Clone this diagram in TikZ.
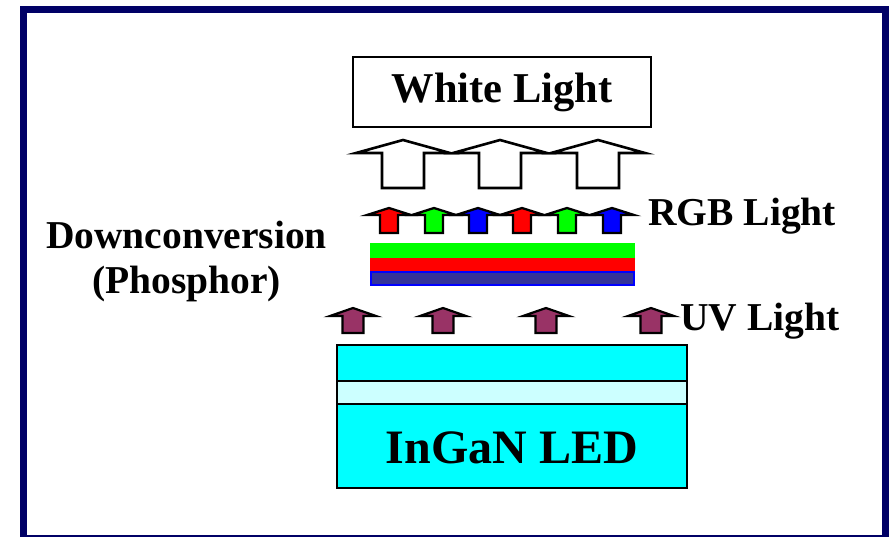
\documentclass[tikz,border=0pt]{standalone}
\usepackage{fontspec}
\setmainfont{Liberation Serif}
\definecolor{framenavy}{HTML}{000066}
\definecolor{uvpurple}{HTML}{993366}
\definecolor{ledcyan}{HTML}{00FFFF}
\definecolor{ledlight}{HTML}{CCFFFF}
\definecolor{phblue}{HTML}{333399}
\definecolor{rgbred}{HTML}{FF0000}
\definecolor{rgbgreen}{HTML}{00FF00}
\definecolor{rgbblue}{HTML}{0000FF}
% \myuparrow{cx}{tip y}{head base y}{bottom y}{head half width}{shaft half width}{style}
\newcommand{\myuparrow}[7]{%
  \draw[#7] (#1,#2) -- (#1+#5,#3) -- (#1+#6,#3) -- (#1+#6,#4) -- (#1-#6,#4)
    -- (#1-#6,#3) -- (#1-#5,#3) -- cycle;}
\tikzset{
  lbl/.style={font=\bfseries\fontsize{39.5}{46}\selectfont, inner sep=0pt},
  bigarrow/.style={draw=black, fill=white, line width=2.6pt, line join=miter},
  rgbarrow/.style={draw=black, line width=2.3pt, line join=miter},
  uvarrow/.style={draw=black, fill=uvpurple, line width=2.2pt, line join=miter},
  layer/.style={draw=black, line width=2.4pt},
}
\begin{document}
\begin{tikzpicture}[x=1pt,y=-1pt]
\useasboundingbox (0,0) rectangle (891,536);
\clip (0,0) rectangle (891,536);
\fill[white] (0,0) rectangle (891,536);
% frame
\draw[framenavy, line width=7.7pt] (23.4,9.5) rectangle (885.5,538.6);

% White Light box
\node[draw=black, line width=2pt, minimum width=298pt, minimum height=70pt,
  inner sep=0pt, font=\bfseries\fontsize{42.5}{48}\selectfont] (white) at (502,92) {White Light};

% big hollow arrows
\myuparrow{403}{140}{153}{188}{47}{21}{bigarrow}
\myuparrow{500}{140}{153}{188}{47}{21}{bigarrow}
\myuparrow{598}{140}{153}{188}{47}{21}{bigarrow}

% RGB arrows
\myuparrow{389}{208}{215}{233}{22}{9}{rgbarrow, fill=rgbred}
\myuparrow{434}{208}{215}{233}{22}{9}{rgbarrow, fill=rgbgreen}
\myuparrow{478}{208}{215}{233}{22}{9}{rgbarrow, fill=rgbblue}
\myuparrow{522}{208}{215}{233}{22}{9}{rgbarrow, fill=rgbred}
\myuparrow{567}{208}{215}{233}{22}{9}{rgbarrow, fill=rgbgreen}
\myuparrow{612}{208}{215}{233}{22}{9}{rgbarrow, fill=rgbblue}

% phosphor layers
\fill[rgbgreen] (370,243) rectangle (635,258);
\fill[rgbred] (370,258) rectangle (635,271);
\draw[rgbblue, fill=phblue, line width=2pt] (371,272) rectangle (634,285);

% UV arrows
\myuparrow{353}{308}{316}{333}{23}{10.5}{uvarrow}
\myuparrow{443}{308}{316}{333}{23}{10.5}{uvarrow}
\myuparrow{546}{308}{316}{333}{23}{10.5}{uvarrow}
\myuparrow{651}{308}{316}{333}{23}{10.5}{uvarrow}

% LED stack
\draw[layer, fill=ledcyan] (337,345) rectangle (687,381);
\draw[layer, fill=ledlight] (337,381) rectangle (687,404);
\draw[layer, fill=ledcyan] (337,404) rectangle (687,488);
\node[font=\bfseries\fontsize{48}{54}\selectfont, inner sep=0pt, anchor=base] (led) at (512,463) {InGaN LED};

% labels
\node[lbl, anchor=base west] (rgb) at (648,225) {RGB Light};
\node[lbl, anchor=base west] (uv) at (680,330) {UV Light};
\node[lbl, anchor=base] (down1) at (186.5,248) {Downconversion};
\node[lbl, anchor=base] (down2) at (186.5,293) {(Phosphor)};
\end{tikzpicture}
\end{document}
